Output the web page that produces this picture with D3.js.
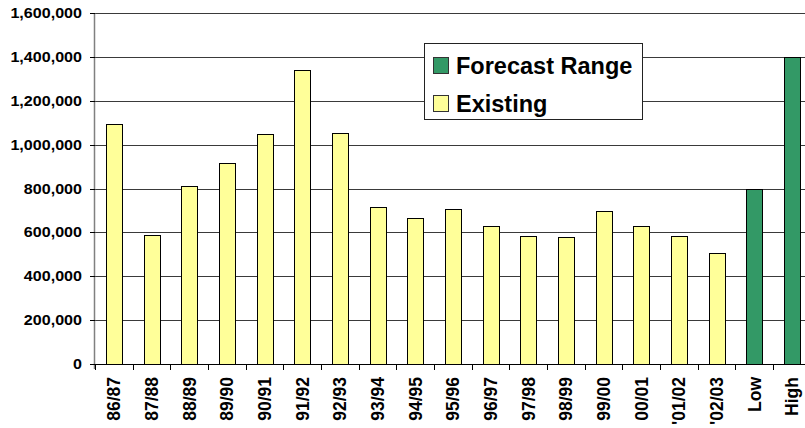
<!DOCTYPE html>
<html>
<head>
<meta charset="utf-8">
<script src="https://cdn.jsdelivr.net/npm/d3@7"></script>
<style>
  html, body { margin: 0; padding: 0; background: #fff; }
  svg { display: block; }
  text { font-family: "Liberation Sans", Arial, sans-serif; font-weight: bold; fill: #000; }
</style>
</head>
<body>
<svg id="chart" width="805" height="428"></svg>
<script>
// Seasons on the category axis, followed by the two forecast cases
const categories = ["86/87", "87/88", "88/89", "89/90", "90/91", "91/92", "92/93", "93/94",
  "94/95", "95/96", "96/97", "97/98", "98/99", "99/00", "00/01", "'01/02", "'02/03", "Low", "High"];

// Existing annual totals (null where the category is a forecast case)
const existing = [1095000, 590000, 813000, 916000, 1050000, 1340000, 1055000, 716000,
  667000, 705000, 628000, 582000, 578000, 696000, 628000, 582000, 505000, null, null];

// Forecast range: low and high cases
const forecast = [null, null, null, null, null, null, null, null, null, null,
  null, null, null, null, null, null, null, 800000, 1400000];

const yTicks = [0, 200000, 400000, 600000, 800000, 1000000, 1200000, 1400000, 1600000];

const seriesNames = ["Forecast Range", "Existing"];
const colors = { "Forecast Range": "#339966", "Existing": "#FFFF99" };

const svg = d3.select("#chart");
const plotLeft = 95, plotTop = 13, plotBottom = 364;
const step = 37.67;
const plotRight = plotLeft + step * categories.length;   // plot runs past the right edge of the view

const x = d3.scaleBand().domain(categories).range([plotLeft, plotRight])
  .paddingInner(0.5885).paddingOuter(0.29425);
const xSlots = d3.scaleBand().domain(categories).range([plotLeft, plotRight]).padding(0);
const y = d3.scaleLinear().domain([0, 1600000]).range([plotBottom, plotTop]);
const fmt = d3.format(",");
const crisp = v => Math.round(v) + 0.5;

// Horizontal gridlines
svg.append("g").selectAll("line")
  .data(yTicks.filter(d => d > 0))
  .join("line")
  .attr("x1", plotLeft).attr("x2", 805)
  .attr("y1", d => crisp(y(d))).attr("y2", d => crisp(y(d)))
  .attr("stroke", "#3a3a3a").attr("stroke-width", 1.2);

// Bars for each series
function drawBars(values, name) {
  svg.append("g").selectAll("rect")
    .data(categories.map((c, i) => ({ c, v: values[i] })).filter(d => d.v != null))
    .join("rect")
    .attr("x", d => Math.round(x(d.c)) + 0.5)
    .attr("y", d => Math.round(y(d.v)) + 0.5)
    .attr("width", Math.round(x.bandwidth()))
    .attr("height", d => Math.round(y(0)) - Math.round(y(d.v)))
    .attr("fill", colors[name])
    .attr("stroke", "#000").attr("stroke-width", 1);
}
drawBars(existing, "Existing");
drawBars(forecast, "Forecast Range");

// Value axis
const yAxis = svg.append("g");
yAxis.append("line")
  .attr("x1", plotLeft - 0.5).attr("x2", plotLeft - 0.5)
  .attr("y1", plotTop).attr("y2", plotBottom + 5)
  .attr("stroke", "#808080").attr("stroke-width", 1.5);
yAxis.selectAll("line.tick")
  .data(yTicks).join("line").attr("class", "tick")
  .attr("x1", plotLeft - 5).attr("x2", plotLeft)
  .attr("y1", d => crisp(y(d))).attr("y2", d => crisp(y(d)))
  .attr("stroke", "#000");
yAxis.selectAll("text")
  .data(yTicks).join("text")
  .attr("transform", d => `translate(82,${y(d)}) scale(1.15,1)`)
  .attr("dy", "0.36em")
  .attr("text-anchor", "end")
  .style("font-size", "14px")
  .text(d => fmt(d));

// Category axis
const xAxis = svg.append("g");
xAxis.append("line")
  .attr("x1", plotLeft - 5).attr("x2", 805)
  .attr("y1", crisp(y(0))).attr("y2", crisp(y(0)))
  .attr("stroke", "#000");
xAxis.selectAll("line.tick")
  .data(categories).join("line").attr("class", "tick")
  .attr("x1", d => crisp(xSlots(d))).attr("x2", d => crisp(xSlots(d)))
  .attr("y1", y(0)).attr("y2", y(0) + 6)
  .attr("stroke", "#000");
xAxis.selectAll("text")
  .data(categories).join("text")
  .attr("transform", d => `translate(${x(d) + x.bandwidth() / 2 + 6.5},377) rotate(-90)`)
  .attr("text-anchor", "end")
  .style("font-size", "17.5px")
  .text(d => d);

// Legend
const legend = svg.append("g");
legend.append("rect")
  .attr("x", 424.5).attr("y", 43.5).attr("width", 218).attr("height", 76)
  .attr("fill", "#fff").attr("stroke", "#222").attr("stroke-width", 1);
const items = legend.selectAll("g.item")
  .data(seriesNames).join("g").attr("class", "item")
  .attr("transform", (d, i) => `translate(0,${i * 38})`);
items.append("rect")
  .attr("x", 433.5).attr("y", 57.5).attr("width", 15).attr("height", 16)
  .attr("fill", d => colors[d]).attr("stroke", "#333");
items.append("text")
  .attr("x", 456).attr("y", 73.5)
  .style("font-size", "23.5px")
  .text(d => d);
</script>
</body>
</html>
